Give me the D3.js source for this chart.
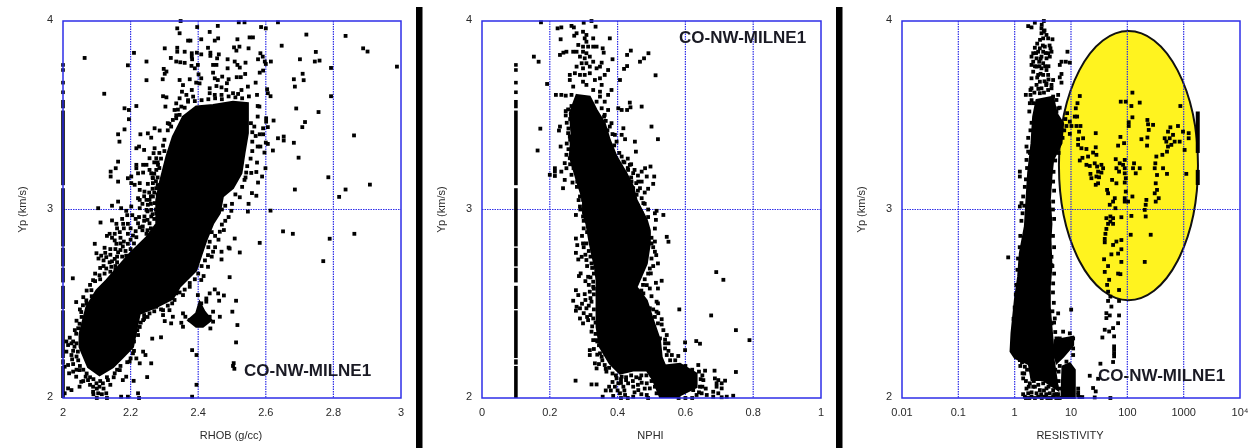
<!DOCTYPE html>
<html><head><meta charset="utf-8">
<script src="https://cdnjs.cloudflare.com/ajax/libs/d3/7.8.5/d3.min.js"></script>
<style>html,body{margin:0;padding:0;background:#fff}svg{display:block;filter:blur(0.3px)}</style>
</head><body><svg id="c" width="1254" height="448"></svg>
<script>
// ---------- shared ----------
const vpTicks=[2,3,4];
const rhobTicks=[2,2.2,2.4,2.6,2.8,3];
const nphiTicks=[0,0.2,0.4,0.6,0.8,1];
const resTicks=[0.01,0.1,1,10,100,1000,10000];
const resTickLabels=["0.01","0.1","1","10","100","1000","10⁴"];
const wellName="CO-NW-MILNE1";
// isolated Vp readings of the null-valued column (RHOB=2, NPHI=0.1)
const nullVpDots=[3.767,3.740,3.673,3.622];
// continuous runs of the same column [vpLow, vpHigh]
const nullVpRuns=[[3.537,3.581],[3.129,3.525],[2.804,3.113],[2.698,2.797],[2.613,2.691],[2.472,2.595],[2.212,2.465],[2.177,2.205],[2,2.170]];

// ---------- RHOB ----------
const rhobDense=[[[2.394,3.546],[2.444,3.555],[2.503,3.572],[2.547,3.564],[2.547,3.405],[2.537,3.299],[2.528,3.193],[2.503,3.113],[2.473,3.069],[2.464,2.981],[2.444,2.924],[2.424,2.836],[2.404,2.730],[2.394,2.677],[2.345,2.588],[2.325,2.527],[2.276,2.482],[2.227,2.447],[2.217,2.359],[2.207,2.270],[2.178,2.217],[2.148,2.164],[2.108,2.120],[2.074,2.164],[2.049,2.270],[2.049,2.341],[2.069,2.482],[2.099,2.571],[2.128,2.624],[2.197,2.765],[2.247,2.853],[2.276,2.924],[2.276,3.051],[2.286,3.140],[2.306,3.281],[2.325,3.387],[2.355,3.493]],
[[2.370,2.413],[2.394,2.449],[2.404,2.510],[2.419,2.458],[2.439,2.413],[2.414,2.378],[2.394,2.378]]];
const rhobPoints=[[2.064,3.804],[2.122,3.614],[2.192,3.765],[2.210,3.831],[2.247,3.785],[2.247,3.686],[2.348,4.0],[2.338,3.961],[2.345,3.935],[2.397,3.968],[2.434,3.942],[2.458,3.974],[2.520,3.993],[2.537,3.993],[2.586,3.968],[2.600,3.961],[2.636,3.993],[2.720,3.928],[2.836,3.921],[2.888,3.855],[2.901,3.838],[2.988,3.758],[2.647,3.869],[2.748,3.836],[2.745,3.785],[2.759,3.790],[2.701,3.797],[2.793,3.751],[2.709,3.720],[2.712,3.686],[2.683,3.691],[2.686,3.652],[2.793,3.601],[2.690,3.536],[2.756,3.517],[2.716,3.464],[2.708,3.437],[2.861,3.393],[2.683,3.354],[2.697,3.275],[2.785,3.171],[2.908,3.132],[2.836,3.106],[2.817,3.067],[2.686,3.106],[2.614,2.994],[2.651,2.884],[2.680,2.871],[2.789,2.845],[2.862,2.871],[2.770,2.726],[2.582,2.823],[2.523,2.772],[2.493,2.641],[2.512,2.516],[2.501,2.458],[2.516,2.387],[2.512,2.295],[2.505,2.185],[2.503,2.170],[2.507,2.155],[2.382,2.254],[2.395,2.228],[2.249,2.111],[2.395,2.07],[2.382,2.007],[2.264,2.315],[2.290,2.322],[2.029,2.635],[2.039,2.509],
[2.370,3.896],[2.377,3.896],[2.409,3.903],[2.459,3.908],[2.449,3.896],[2.516,3.903],[2.552,3.913],[2.562,3.913],[2.301,3.855],[2.338,3.858],[2.338,3.837],[2.360,3.837],[2.381,3.829],[2.381,3.811],[2.396,3.832],[2.409,3.823],[2.436,3.832],[2.436,3.815],[2.461,3.823],[2.456,3.802],[2.429,3.858],[2.506,3.860],[2.522,3.864],[2.513,3.843],[2.549,3.855],[2.584,3.829],[2.591,3.811],[2.577,3.797],[2.597,3.785],[2.615,3.785],[2.600,3.772],[2.319,3.804],[2.335,3.785],[2.347,3.781],[2.360,3.778],[2.382,3.797],[2.380,3.762],[2.390,3.749],[2.399,3.767],[2.444,3.767],[2.454,3.767],[2.487,3.797],[2.508,3.785],[2.516,3.767],[2.523,3.753],[2.540,3.779],[2.487,3.749],[2.298,3.746],[2.306,3.732],[2.301,3.720],[2.295,3.691],[2.345,3.687],[2.375,3.691],[2.401,3.717],[2.409,3.696],[2.394,3.673],[2.444,3.726],[2.449,3.696],[2.471,3.705],[2.458,3.687],[2.490,3.691],[2.485,3.670],[2.514,3.702],[2.526,3.702],[2.539,3.719],[2.570,3.673],[2.592,3.737],[2.582,3.726],[2.355,3.660],[2.352,3.625],[2.381,3.634],[2.404,3.669],[2.434,3.643],[2.454,3.655],[2.469,3.648],[2.483,3.634],[2.434,3.617],[2.449,3.608],[2.469,3.608],[2.503,3.617],[2.518,3.613],[2.528,3.634],[2.547,3.652],[2.604,3.638],[2.606,3.617],[2.614,3.601],[2.574,3.608],[2.296,3.601],[2.306,3.595],[2.303,3.546],[2.345,3.590],[2.365,3.608],[2.385,3.599],[2.370,3.572],[2.335,3.563],[2.330,3.528],[2.350,3.546],[2.182,3.537],[2.195,3.528],[2.217,3.549],[2.195,3.479],[2.335,3.484],[2.325,3.475],[2.310,3.458],[2.315,3.454],[2.345,3.502],
[2.576,3.549],[2.581,3.546],[2.576,3.493],[2.601,3.484],[2.601,3.466],[2.623,3.472],[2.556,3.458],[2.566,3.440],[2.606,3.437],[2.592,3.431],[2.592,3.399],[2.582,3.399],[2.636,3.378],[2.653,3.387],[2.653,3.366],[2.600,3.355],[2.606,3.348],[2.576,3.334],[2.584,3.334],[2.621,3.313],[2.596,3.302],[2.574,3.249],[2.599,3.219],[2.542,3.196],[2.557,3.194],[2.572,3.199],[2.589,3.175],[2.577,3.143],[2.537,3.157],[2.559,3.087],[2.572,3.073],[2.523,3.065],[2.549,3.030],[2.547,2.989],[2.498,2.993],
[2.163,3.399],[2.167,3.360],[2.182,3.425],[2.229,3.399],[2.251,3.404],[2.261,3.381],[2.271,3.431],[2.286,3.419],[2.296,3.339],[2.217,3.325],[2.225,3.334],[2.240,3.316],[2.271,3.325],[2.268,3.299],[2.276,3.272],[2.256,3.272],[2.163,3.254],[2.156,3.219],[2.141,3.201],[2.141,3.175],[2.163,3.148],[2.217,3.237],[2.217,3.219],[2.237,3.237],[2.247,3.237],[2.256,3.210],[2.281,3.237],[2.276,3.210],[2.222,3.192],[2.237,3.196],[2.261,3.192],[2.266,3.166],[2.192,3.166],[2.202,3.175],[2.202,3.140],[2.212,3.131],[2.227,3.140],[2.251,3.136],[2.266,3.140],[2.222,3.060],[2.227,3.051],[2.247,3.051],[2.256,3.051],[2.266,3.069],[2.271,3.034],[2.251,3.025],[2.247,2.998],[2.163,3.042],[2.145,3.020],[2.104,3.007],[2.172,3.007],[2.187,2.993],[2.202,3.016],[2.227,3.007],[2.261,2.998],[2.241,2.963],[2.261,2.963],[2.276,2.980],[2.227,3.104],[2.241,3.095],[2.276,3.113],[2.111,2.931],[2.145,2.942],[2.158,2.924],[2.178,2.924],[2.192,2.924],[2.222,2.927],[2.236,2.910],[2.256,2.927],
[2.138,2.871],[2.153,2.871],[2.168,2.880],[2.192,2.871],[2.207,2.862],[2.227,2.906],[2.247,2.871],[2.153,2.836],[2.158,2.818],[2.192,2.818],[2.177,2.804],[2.217,2.853],[2.227,2.800],[2.247,2.791],[2.217,2.765],[2.094,2.818],[2.123,2.797],[2.099,2.768],[2.113,2.755],[2.128,2.747],[2.138,2.720],[2.153,2.738],[2.163,2.773],[2.187,2.755],[2.177,2.712],[2.089,2.625],[2.108,2.651],[2.128,2.687],[2.143,2.696],[2.123,2.660],[2.084,2.572],[2.069,2.518],[2.059,2.492],[2.054,2.456],[2.049,2.394],[2.039,2.341],[2.020,2.320],
[2.015,2.281],[2.034,2.272],[2.010,2.246],[2.025,2.228],[2.044,2.246],[2.027,2.205],[2.015,2.175],[2.005,2.166],[2.018,2.131],[2.049,2.148],[2.039,2.113],[2.054,2.086],[2.049,2.060],[2.015,2.051],[2.025,2.042],[2.005,2.025],[2.067,2.113],[2.074,2.095],[2.099,2.078],[2.089,2.060],[2.108,2.060],[2.118,2.078],[2.133,2.095],[2.089,2.033],[2.104,2.025],[2.128,2.025],[2.153,2.131],[2.168,2.148],[2.187,2.113],[2.177,2.095],[2.172,2.007],[2.192,2.007],[2.222,2.025],[2.225,2.0],[2.209,2.091],[2.197,2.193],[2.217,2.210],[2.237,2.246],[2.244,2.228],[2.261,2.184],[2.227,2.184],[2.207,2.237],[2.222,2.334],[2.227,2.377],[2.237,2.413],
[2.335,2.555],[2.355,2.546],[2.375,2.590],[2.409,2.626],[2.416,2.647],[2.429,2.696],[2.444,2.776],[2.469,2.776],[2.469,2.735],[2.429,2.758],[2.419,2.855],[2.434,2.829],[2.464,2.882],[2.476,2.891],[2.490,2.798],[2.508,2.846],[2.493,2.793],[2.323,2.502],[2.276,2.484],[2.256,2.449],[2.296,2.466],[2.315,2.466],[2.296,2.440],[2.325,2.431],[2.301,2.408],[2.320,2.396],[2.355,2.449],[2.362,2.431],[2.350,2.399],[2.355,2.378],[2.375,2.413],[2.399,2.546],[2.409,2.502],[2.424,2.528],[2.434,2.555],[2.449,2.576],[2.459,2.555],[2.476,2.544],[2.462,2.516],[2.424,2.511],[2.444,2.458],[2.434,2.431],[2.464,2.431],[2.444,2.405],[2.436,2.369],[2.404,2.387]];
const rhobEdge=[[2.285,3.30],[2.29,3.27],[2.28,3.25],[2.27,3.25],[2.285,3.22],[2.27,3.19],[2.28,3.17],[2.265,3.17],[2.275,3.15],[2.28,3.13],[2.265,3.11],[2.255,3.09],[2.27,3.09],[2.28,3.08],[2.26,3.07],[2.24,3.07],[2.235,3.03],[2.26,3.03],[2.275,3.0],[2.25,2.99],[2.265,2.975],[2.27,2.95],[2.25,2.945],[2.24,2.94],[2.215,2.95],[2.225,2.96],[2.205,2.97],[2.19,2.97],[2.175,2.95],[2.16,2.90],[2.18,2.90],[2.2,2.90],[2.215,2.885],[2.235,2.89],[2.25,2.89],[2.26,2.90],
[2.13,2.86],[2.145,2.85],[2.17,2.85],[2.18,2.83],[2.2,2.84],[2.21,2.82],[2.17,2.82],[2.14,2.79],[2.155,2.79],[2.17,2.785],[2.185,2.78],[2.2,2.79],[2.125,2.77],[2.14,2.76],[2.16,2.75],[2.175,2.75],[2.19,2.73],[2.105,2.74],[2.12,2.73],[2.145,2.725],[2.16,2.72],[2.17,2.70],[2.155,2.70],[2.14,2.67],[2.155,2.68],[2.11,2.69],[2.12,2.70],[2.095,2.66],[2.11,2.63],[2.095,2.62],[2.08,2.60],[2.07,2.57],[2.085,2.54],[2.06,2.535],[2.07,2.50],[2.05,2.47],[2.055,2.43],[2.04,2.41],[2.045,2.37],[2.035,2.36],[2.03,2.30],[2.04,2.29],
[2.01,2.30],[2.025,2.29],[2.03,2.25],[2.04,2.22],[2.045,2.20],[2.03,2.18],[2.05,2.17],[2.06,2.15],[2.04,2.15],[2.03,2.14],[2.07,2.13],[2.08,2.11],[2.06,2.09],[2.09,2.10],[2.11,2.09],[2.13,2.11],[2.15,2.11],[2.16,2.15],[2.17,2.17],[2.19,2.19],[2.2,2.21],[2.21,2.25],[2.21,2.30],[2.22,2.36],[2.23,2.40],[2.24,2.44],[2.08,2.07],[2.1,2.05],[2.12,2.05],[2.14,2.07],[2.09,2.02],[2.115,2.02],[2.13,2.0],[2.1,2.0],
[2.44,2.88],[2.45,2.86],[2.43,2.80],[2.44,2.75],[2.42,2.73],[2.41,2.70],[2.40,2.66],[2.39,2.63],[2.375,2.61],[2.36,2.575],[2.345,2.56],[2.33,2.52],[2.31,2.49],[2.29,2.47],[2.27,2.46],[2.25,2.43],[2.24,2.42],[2.45,2.80],[2.46,2.84],[2.47,2.92],[2.48,2.94],[2.49,2.96],[2.47,3.00],[2.48,3.02],[2.50,3.03],[2.51,3.08],[2.53,3.12],[2.54,3.17],[2.545,3.23],[2.555,3.27],[2.56,3.31],[2.56,3.36],[2.56,3.41],[2.57,3.39],
[2.37,3.58],[2.39,3.575],[2.41,3.58],[2.43,3.585],[2.45,3.59],[2.47,3.585],[2.49,3.60],[2.51,3.595],[2.53,3.59],[2.55,3.60],[2.36,3.54],[2.34,3.53],[2.335,3.50],[2.32,3.44],[2.31,3.42],[2.30,3.37],[2.30,3.31]];

// ---------- NPHI ----------
const nphiDense=[[[0.279,3.608],[0.318,3.599],[0.338,3.528],[0.362,3.458],[0.377,3.369],[0.397,3.281],[0.426,3.193],[0.446,3.122],[0.456,3.051],[0.486,2.945],[0.495,2.889],[0.495,2.818],[0.486,2.712],[0.456,2.588],[0.486,2.518],[0.505,2.412],[0.525,2.306],[0.530,2.217],[0.540,2.173],[0.584,2.182],[0.633,2.129],[0.633,2.058],[0.574,2.005],[0.525,2.005],[0.505,2.094],[0.486,2.146],[0.446,2.146],[0.407,2.129],[0.377,2.182],[0.348,2.270],[0.338,2.376],[0.338,2.570],[0.338,2.624],[0.333,2.694],[0.318,2.818],[0.308,2.924],[0.298,2.980],[0.298,3.051],[0.279,3.157],[0.259,3.281],[0.264,3.405],[0.259,3.511]]];
const nphiPoints=[[0.174,3.993],[0.223,3.961],[0.234,3.966],[0.264,3.974],[0.271,3.966],[0.300,3.991],[0.323,4.0],[0.335,3.970],[0.279,3.935],[0.272,3.922],[0.298,3.943],[0.308,3.926],[0.303,3.908],[0.232,3.903],[0.377,3.908],[0.308,3.890],[0.328,3.908],[0.328,3.864],[0.284,3.873],[0.298,3.864],[0.313,3.864],[0.338,3.864],[0.356,3.855],[0.230,3.820],[0.240,3.832],[0.249,3.837],[0.269,3.837],[0.279,3.837],[0.298,3.837],[0.308,3.829],[0.359,3.832],[0.153,3.811],[0.167,3.784],[0.192,3.666],[0.439,3.843],[0.428,3.820],[0.491,3.829],[0.478,3.802],[0.466,3.784],[0.385,3.797],[0.428,3.761],[0.419,3.746],[0.512,3.712],[0.289,3.811],[0.303,3.802],[0.318,3.811],[0.328,3.784],[0.294,3.776],[0.308,3.776],[0.353,3.779],[0.279,3.758],[0.298,3.749],[0.318,3.758],[0.338,3.749],[0.348,3.758],[0.372,3.740],[0.362,3.714],[0.259,3.714],[0.274,3.723],[0.259,3.687],[0.289,3.714],[0.303,3.714],[0.318,3.723],[0.333,3.687],[0.348,3.696],[0.407,3.687],[0.269,3.652],[0.298,3.678],[0.308,3.661],[0.353,3.661],[0.328,3.634],[0.348,3.625],[0.382,3.634],[0.372,3.608],[0.218,3.608],[0.234,3.608],[0.247,3.604],[0.264,3.608],[0.348,3.599],[0.338,3.572],[0.362,3.572],[0.353,3.537],[0.372,3.528],[0.362,3.502],[0.402,3.537],[0.412,3.528],[0.428,3.528],[0.438,3.542],[0.436,3.567],[0.471,3.546],[0.360,3.493],
[0.264,3.549],[0.254,3.531],[0.247,3.522],[0.247,3.499],[0.172,3.429],[0.164,3.313],[0.230,3.440],[0.227,3.419],[0.254,3.405],[0.259,3.387],[0.264,3.360],[0.232,3.334],[0.249,3.290],[0.259,3.272],[0.244,3.246],[0.249,3.219],[0.215,3.219],[0.215,3.201],[0.200,3.184],[0.215,3.178],[0.234,3.201],[0.244,3.157],[0.264,3.184],[0.267,3.143],[0.281,3.148],[0.239,3.113],[0.294,3.113],[0.289,3.069],[0.298,3.051],[0.289,3.016],[0.277,2.971],[0.298,2.963],
[0.382,3.458],[0.377,3.440],[0.417,3.431],[0.392,3.396],[0.412,3.396],[0.422,3.373],[0.397,3.360],[0.451,3.360],[0.454,3.307],[0.500,3.440],[0.519,3.373],[0.412,3.281],[0.417,3.254],[0.436,3.237],[0.431,3.210],[0.446,3.193],[0.471,3.201],[0.481,3.219],[0.497,3.228],[0.486,3.175],[0.508,3.175],[0.505,3.136],[0.441,3.148],[0.461,3.148],[0.471,3.148],[0.446,3.113],[0.466,3.113],[0.456,3.078],[0.471,3.060],[0.476,3.034],[0.456,3.007],[0.426,3.007],[0.436,2.980],[0.451,2.963],[0.471,2.980],[0.471,2.945],[0.515,2.993],[0.510,2.980],[0.535,2.971],[0.513,2.945],
[0.545,2.855],[0.550,2.829],[0.510,2.899],[0.491,2.873],[0.500,2.820],[0.495,2.687],[0.498,2.661],[0.519,2.714],[0.514,2.758],[0.510,2.776],[0.530,2.622],[0.513,2.611],[0.519,2.581],[0.486,2.599],[0.495,2.581],[0.476,2.555],[0.515,2.511],[0.519,2.502],[0.495,2.476],[0.515,2.458],[0.530,2.418],[0.519,2.396],[0.545,2.334],[0.525,2.316],[0.550,2.290],[0.540,2.263],[0.545,2.228],[0.560,2.228],[0.579,2.223],[0.599,2.295],[0.599,2.254],[0.632,2.302],[0.643,2.288],[0.582,2.470],[0.676,2.438],[0.691,2.668],[0.712,2.627],[0.749,2.360],[0.789,2.307],[0.749,2.138],[0.686,2.145],[0.658,2.145],
[0.277,2.846],[0.281,2.811],[0.298,2.820],[0.308,2.820],[0.277,2.770],[0.294,2.749],[0.284,2.735],[0.308,2.732],[0.323,2.714],[0.291,2.661],[0.286,2.647],[0.313,2.643],[0.328,2.617],[0.328,2.590],[0.318,2.564],[0.303,2.551],[0.277,2.572],[0.284,2.546],[0.269,2.516],[0.279,2.484],[0.277,2.463],[0.289,2.476],[0.308,2.476],[0.323,2.511],[0.289,2.422],[0.298,2.396],[0.313,2.413],[0.328,2.422],[0.323,2.352],[0.328,2.307],[0.338,2.307],[0.318,2.254],[0.318,2.228],[0.348,2.237],[0.353,2.219],[0.333,2.184],[0.338,2.157],[0.362,2.175],[0.367,2.140],[0.397,2.104],[0.412,2.113],[0.276,2.092],[0.323,2.072],[0.338,2.072],
[0.356,2.007],[0.387,2.011],[0.392,2.060],[0.402,2.078],[0.417,2.060],[0.431,2.078],[0.446,2.060],[0.466,2.104],[0.471,2.081],[0.486,2.078],[0.495,2.051],[0.407,2.025],[0.422,2.016],[0.446,2.007],[0.461,2.042],[0.486,2.016],[0.515,2.025],[0.525,2.060],[0.540,2.051],[0.555,2.060],[0.638,2.175],[0.653,2.095],[0.643,2.060],[0.623,2.042],[0.633,2.016],[0.648,2.025],[0.663,2.016],[0.682,2.007],[0.707,2.004],[0.722,2.007],[0.741,2.012],[0.687,2.104],[0.697,2.095],[0.717,2.092],[0.692,2.078],[0.707,2.078],[0.707,2.051],[0.692,2.060],[0.682,2.033],[0.697,2.025]];
const nphiEdge=[[0.30,2.90],[0.295,2.86],[0.31,2.88],[0.30,2.80],[0.315,2.78],[0.305,2.76],[0.32,2.75],[0.325,2.69],[0.31,2.70],[0.33,2.66],[0.32,2.64],[0.305,2.62],[0.315,2.60],[0.33,2.58],[0.32,2.53],[0.33,2.55],[0.305,2.52],[0.295,2.50],[0.315,2.49],[0.33,2.47],[0.30,2.45],[0.32,2.44],[0.31,2.43],[0.335,2.40],[0.325,2.38],[0.335,2.34],[0.34,2.30],[0.345,2.28],[0.33,2.26],[0.34,2.23],[0.355,2.20],[0.345,2.18],[0.365,2.155],[0.375,2.16],[0.385,2.13],[0.395,2.12],[0.41,2.10],[0.425,2.11],[0.44,2.12],[0.455,2.11],[0.47,2.12],[0.485,2.12],[0.50,2.12],
[0.38,2.04],[0.40,2.04],[0.42,2.04],[0.41,2.0],[0.43,2.0],[0.45,2.03],[0.46,2.07],[0.48,2.05],[0.47,2.02],[0.49,2.0],[0.50,2.09],[0.51,2.06],[0.52,2.10],[0.53,2.02],[0.54,2.09],[0.55,2.03],[0.56,2.08],[0.445,2.09],[0.425,2.095],[0.41,2.08],[0.385,2.085],[0.375,2.06],[0.365,2.04],
[0.50,2.85],[0.505,2.80],[0.51,2.83],[0.50,2.74],[0.505,2.70],[0.49,2.66],[0.48,2.63],[0.475,2.60],[0.47,2.57],[0.50,2.54],[0.505,2.47],[0.52,2.45],[0.51,2.43],[0.53,2.39],[0.535,2.36],[0.54,2.31],[0.54,2.29],[0.55,2.25],[0.555,2.20],[0.57,2.20],[0.60,2.17],[0.62,2.15],[0.64,2.14],[0.65,2.12],[0.645,2.10],[0.65,2.06],[0.66,2.05],[0.64,2.03],[0.60,2.0],[0.62,2.0],[0.58,2.0],
[0.46,3.10],[0.455,3.14],[0.44,3.17],[0.43,3.22],[0.42,3.25],[0.405,3.30],[0.39,3.34],[0.385,3.40],[0.37,3.42],[0.365,3.47],[0.49,3.0],[0.48,3.03],[0.46,3.02],[0.49,2.96],[0.46,3.18],[0.45,3.21],[0.44,3.24],[0.43,3.27],[0.48,3.09],[0.49,3.11],
[0.28,3.20],[0.27,3.22],[0.26,3.24],[0.27,3.28],[0.255,3.32],[0.25,3.35],[0.26,3.37],[0.255,3.43],[0.25,3.46],[0.26,3.48],[0.28,3.12],[0.295,3.09],[0.285,3.05],[0.29,3.00],[0.30,2.94]];

// ---------- RESISTIVITY (values stored as log10 ohm.m) ----------
const resDense=[[[0.387,3.581],[0.683,3.599],[0.742,3.511],[0.860,3.458],[0.831,3.352],[0.683,3.263],[0.653,3.175],[0.624,3.051],[0.653,2.924],[0.636,2.839],[0.653,2.698],[0.624,2.592],[0.624,2.482],[0.653,2.376],[0.683,2.274],[0.683,2.168],[0.447,2.150],[0.209,2.185],[0.004,2.212],[-0.073,2.247],[-0.056,2.344],[0.004,2.521],[0.062,2.645],[0.092,2.768],[0.181,2.910],[0.210,3.051],[0.239,3.193],[0.299,3.352],[0.328,3.493]],
[[0.849,2.168],[0.979,2.185],[1.067,2.150],[1.067,2.0],[0.830,2.0]],
[[0.712,2.307],[1.038,2.325],[1.038,2.281],[0.860,2.219],[0.742,2.184],[0.712,2.228]],
[[0.240,2.201],[0.683,2.219],[0.772,2.042],[0.506,2.095],[0.299,2.095]]];
const resPoints=[[0.518,4.0],[0.358,3.991],[0.240,3.973],[0.299,3.966],[0.476,3.961],[0.518,3.943],[0.476,3.935],[0.565,3.926],[0.506,3.908],[0.594,3.908],[0.671,3.903],[0.358,3.858],[0.447,3.855],[0.535,3.864],[0.636,3.855],[0.329,3.829],[0.417,3.837],[0.506,3.837],[0.594,3.829],[0.654,3.837],[0.299,3.811],[0.388,3.802],[0.476,3.811],[0.565,3.802],[0.624,3.811],[0.329,3.784],[0.435,3.784],[0.506,3.776],[0.299,3.767],[0.388,3.758],[0.476,3.749],[0.565,3.740],[0.329,3.731],[0.417,3.714],[0.506,3.714],[0.594,3.714],[0.683,3.687],[0.299,3.696],[0.447,3.678],[0.565,3.669],[0.654,3.661],[0.299,3.643],[0.388,3.661],[0.476,3.643],[0.594,3.634],[0.654,3.643],[0.198,3.608],[0.281,3.634],[0.281,3.608],[0.269,3.564],[0.329,3.564],[0.447,3.617],[0.683,3.599],[0.772,3.608],[0.742,3.581],[0.654,3.537],[0.772,3.537],[0.742,3.519],[0.937,3.837],[0.831,3.784],[0.908,3.784],[0.979,3.779],[0.801,3.767],[0.831,3.719],[0.801,3.701],[0.831,3.673],[0.210,3.334],[0.240,3.307],[0.210,3.263],[0.092,3.201],[0.092,3.175],[0.151,3.069],[0.121,3.034],[0.092,3.016],[0.683,3.042],[0.624,3.139],[0.683,3.148],[0.654,2.749],[0.654,2.705],[0.683,2.608],[0.695,2.505],[0.772,2.449],[0.712,2.422],[0.654,2.396],[0.860,2.352],[0.979,2.343],[1.038,2.316],[0.979,2.299],[0.801,2.316],[0.742,2.316],[0.772,2.254],[0.683,2.219],[0.801,2.219],[0.860,2.237],[1.038,2.263],[1.038,2.228],[0.919,2.193],
[0.140,2.131],[0.151,2.104],[0.269,2.078],[0.240,2.025],[0.181,2.007],[0.329,2.060],[0.388,2.025],[0.447,2.042],[0.506,2.078],[0.565,2.051],[0.624,2.025],[0.683,2.042],[0.742,2.060],[0.712,2.095],[0.624,2.095],[0.506,2.131],[0.447,2.148],[0.565,2.166],[0.299,2.148],[0.388,2.166],[0.181,2.166],[0.092,2.201],[0.033,2.219],[0.683,2.007],[0.299,2.007],[0.417,2.007],[0.536,2.007],
[1.156,3.602],[1.115,3.564],[1.085,3.537],[1.067,3.493],[1.109,3.493],[0.931,3.511],[0.979,3.466],[0.919,3.443],[1.008,3.443],[1.097,3.443],[1.168,3.443],[0.979,3.401],[1.143,3.413],[1.439,3.405],[1.126,3.373],[1.215,3.378],[1.126,3.343],[1.185,3.325],[1.274,3.321],[1.439,3.330],[1.392,3.302],[1.451,3.290],[1.303,3.281],[1.156,3.260],[1.203,3.274],[1.274,3.237],[1.333,3.231],[1.421,3.245],[1.463,3.228],[1.540,3.237],[1.570,3.219],[1.481,3.201],[1.540,3.196],[1.345,3.189],[1.451,3.175],[1.362,3.166],[1.498,3.171],[1.481,3.139],[1.439,3.131],[1.729,3.157],[1.806,3.139],[1.954,3.143],[1.972,3.166],[1.954,3.192],[1.954,3.219],[1.954,3.263],[1.924,3.237],[1.865,3.245],[1.794,3.267],[1.806,3.219],[1.853,3.201],[2.119,3.245],[2.101,3.219],[2.220,3.219],[2.149,3.192],[1.836,3.339],[1.942,3.352],[1.877,3.385],[1.883,3.572],[1.972,3.572],[2.090,3.620],[2.072,3.549],[2.220,3.567],[2.090,3.489],[2.025,3.463],[2.025,3.443],[2.356,3.475],[2.368,3.452],[2.380,3.422],[2.457,3.449],[2.250,3.373],[2.356,3.382],[2.350,3.339],
[2.722,3.413],[2.764,3.436],[2.899,3.443],[2.988,3.413],[3.089,3.405],[3.089,3.378],[2.663,3.378],[2.692,3.360],[2.752,3.378],[2.811,3.396],[2.840,3.360],[2.929,3.360],[2.722,3.334],[2.781,3.343],[2.704,3.307],[2.622,3.290],[2.515,3.281],[2.497,3.245],[2.486,3.219],[2.634,3.219],[2.527,3.183],[2.704,3.189],[3.047,3.189],[3.017,3.316],[2.941,3.549],[2.504,3.139],[2.527,3.104],[2.486,3.086],[2.557,3.060],[2.504,3.042],[2.338,3.051],[2.326,3.025],[2.309,2.998],[2.326,2.963],[1.972,3.095],[2.090,3.069],[1.954,3.060],[1.954,3.042],[2.013,3.042],[1.777,3.060],[1.747,3.042],[1.688,3.025],[1.641,3.104],[1.658,3.086],[1.788,3.007],[1.699,2.963],[1.628,2.954],[1.747,2.954],[1.894,2.959],[2.072,2.966],[1.699,2.936],[1.658,2.924],[1.747,2.924],
[1.628,2.897],[1.611,2.871],[1.599,2.844],[1.599,2.826],[2.060,2.866],[2.415,2.866],[1.894,2.838],[1.806,2.830],[1.747,2.812],[1.894,2.789],[1.836,2.766],[1.717,2.762],[1.587,2.736],[1.658,2.700],[2.309,2.722],[1.894,2.722],[1.599,2.669],[1.836,2.660],[1.877,2.657],[1.677,2.627],[1.641,2.600],[1.853,2.573],[1.658,2.564],[1.699,2.538],[1.658,2.515],[1.717,2.485],[1.853,2.515],[1.628,2.450],[1.688,2.438],[1.628,2.424],[1.853,2.438],[1.836,2.397],[1.747,2.371],[1.599,2.362],[1.677,2.353],[1.557,2.321],[1.765,2.327],[1.765,2.274],[1.765,2.256],[1.765,2.238],[1.765,2.221],[1.747,2.191],[1.522,2.182],[1.333,2.118],[1.481,2.102],[1.392,2.053],[1.439,2.035],[1.421,2.003],[1.699,2.0],[1.003,2.469],[-0.115,2.746],[1.127,2.05],[1.127,2.03],[1.127,2.015],[1.15,2.005],[1.2,2.005]];
const resEdge=[[0.30,3.58],[0.26,3.52],[0.30,3.46],[0.28,3.42],[0.24,3.38],[0.27,3.30],[0.22,3.22],[0.20,3.16],[0.18,3.12],[0.17,3.02],[0.14,2.98],[0.12,2.94],[0.10,2.86],[0.09,2.80],[0.06,2.74],[0.05,2.68],[0.03,2.60],[0.02,2.55],[0.0,2.48],[-0.02,2.42],
[0.69,3.20],[0.72,3.26],[0.78,3.30],[0.85,3.38],[0.88,3.42],[0.90,3.48],[0.80,3.54],[0.70,3.10],[0.68,3.00],[0.70,2.95],[0.68,2.86],[0.70,2.80],[0.67,2.70],[0.70,2.66],[0.68,2.56],[0.67,2.46],[0.70,2.40],[0.72,2.35],
[0.35,3.62],[0.42,3.64],[0.52,3.62],[0.56,3.66],[0.40,3.70],[0.46,3.72],[0.53,3.68],[0.60,3.69],[0.36,3.76],[0.44,3.76],[0.54,3.76],[0.60,3.76],[0.38,3.83],[0.46,3.80],[0.55,3.83],[0.40,3.88],[0.45,3.90],[0.50,3.87],[0.53,3.95],[0.48,3.98],[0.62,3.87],
[0.10,2.17],[0.13,2.19],[0.17,2.13],[0.22,2.15],[0.20,2.09],[0.25,2.06],[0.21,2.05],[0.30,2.03],[0.34,2.09],[0.36,2.06],[0.42,2.07],[0.47,2.02],[0.52,2.04],[0.56,2.02],[0.60,2.06],[0.65,2.07],[0.70,2.02],[0.74,2.02],[0.78,2.09],[0.80,2.05],[0.78,2.14],[0.72,2.15],[0.80,2.17],[0.77,2.02],[0.80,2.0],[0.74,2.0],[0.64,2.0],[0.58,2.0],[0.48,2.0],[0.36,2.0],[0.26,2.0],[0.20,2.0],[0.15,2.02]];
// column of clipped readings at the right of the resistivity panel [vpLow, vpHigh]
const resClipLog=3.25;
const resClipRuns=[[3.30,3.52],[3.13,3.21]];
// highlighted ellipse [centre log10 res, centre Vp, half-width in log10, half-height in Vp]
const ellipseSpec={cx:2.02,cy:3.233,rx:1.234,ry:0.714};

// ---------- drawing ----------
const svg=d3.select("#c"),plotTop=21,plotBottom=398;
const blue="#2e2ee8",textCol="#2a2a2a",font="'Liberation Sans',Arial,sans-serif";
const yS=d3.scaleLinear().domain([2,4]).range([plotBottom,plotTop]);

function panel(o){
  const g=svg.append("g");
  const x=o.x;
  g.append("rect").attr("x",x.range()[0]).attr("y",plotTop).attr("width",x.range()[1]-x.range()[0]).attr("height",plotBottom-plotTop).attr("fill","#fff");
  if(o.under) o.under(g,x);
  o.ticks.slice(1,-1).forEach(t=>g.append("line").attr("x1",x(t)).attr("x2",x(t)).attr("y1",plotTop).attr("y2",plotBottom).attr("stroke",blue).attr("stroke-width",1.2).attr("stroke-dasharray","1.5 1"));
  g.append("line").attr("x1",x.range()[0]).attr("x2",x.range()[1]).attr("y1",yS(3)).attr("y2",yS(3)).attr("stroke",blue).attr("stroke-width",1.2).attr("stroke-dasharray","1.5 1");
  const px=o.px||(d=>x(d));
  const line=d3.line().x(d=>px(d[0])).y(d=>yS(d[1]));
  g.selectAll("path.dense").data(o.dense).join("path").attr("class","dense").attr("d",d=>line(d)+"Z").attr("fill","#000").attr("stroke","#000").attr("stroke-width",2);
  const s=3.8;
  g.selectAll("rect.pt").data(o.points).join("rect").attr("class","pt").attr("x",d=>px(d[0])-s/2).attr("y",d=>yS(d[1])-s/2).attr("width",s).attr("height",s).attr("fill","#000");
  if(o.over) o.over(g,x);
  g.append("rect").attr("x",x.range()[0]).attr("y",plotTop).attr("width",x.range()[1]-x.range()[0]).attr("height",plotBottom-plotTop).attr("fill","none").attr("stroke",blue).attr("stroke-width",1.5);
  o.ticks.forEach((t,i)=>{
    g.append("text").attr("x",x(t)).attr("y",plotBottom+18).attr("text-anchor","middle").attr("font-size",11).attr("font-family",font).attr("fill",textCol).text(o.labels?o.labels[i]:t);
  });
  vpTicks.forEach(t=>g.append("text").attr("x",x.range()[0]-13).attr("y",yS(t)+2).attr("text-anchor","middle").attr("font-size",11).attr("font-family",font).attr("fill",textCol).text(t));
  g.append("text").attr("transform",`translate(${x.range()[0]-37},${yS(3)}) rotate(-90)`).attr("text-anchor","middle").attr("font-size",11).attr("font-family",font).attr("fill",textCol).text("Yp (km/s)");
  g.append("text").attr("x",(x.range()[0]+x.range()[1])/2-1).attr("y",plotBottom+41).attr("text-anchor","middle").attr("font-size",11).attr("font-family",font).attr("fill",textCol).text(o.title);
  g.append("text").attr("x",o.wellX).attr("y",o.wellY).attr("font-size",17).attr("font-weight","bold").attr("font-family",font).attr("fill","#1a1a24").text(wellName);
}
function nullColumn(g,xp){
  g.selectAll(null).data(nullVpRuns).join("rect").attr("x",xp-1.8).attr("width",3.6).attr("y",d=>yS(d[1])).attr("height",d=>yS(d[0])-yS(d[1])).attr("fill","#000");
  g.selectAll(null).data(nullVpDots).join("rect").attr("x",xp-1.8).attr("width",3.6).attr("y",d=>yS(d)-1.8).attr("height",3.6).attr("fill","#000");
}
panel({x:d3.scaleLinear().domain([2,3]).range([63,401]),ticks:rhobTicks,title:"RHOB (g/cc)",dense:rhobDense,points:rhobPoints.concat(rhobEdge),wellX:244,wellY:376,
  over:(g,x)=>nullColumn(g,x(2))});
panel({x:d3.scaleLinear().domain([0,1]).range([482,821]),ticks:nphiTicks,title:"NPHI",dense:nphiDense,points:nphiPoints.concat(nphiEdge),wellX:679,wellY:43,
  over:(g,x)=>nullColumn(g,x(0.1))});
const resX=d3.scaleLog().domain([0.01,10000]).range([902,1240]);
panel({x:resX,px:d=>resX(Math.pow(10,d)),ticks:resTicks,labels:resTickLabels,title:"RESISTIVITY",dense:resDense,points:resPoints.concat(resEdge),wellX:1098,wellY:381,
  under:(g,x)=>{
    const e=ellipseSpec,cx=x(Math.pow(10,e.cx)),cy=yS(e.cy);
    g.append("ellipse").attr("cx",cx).attr("cy",cy)
      .attr("rx",x(Math.pow(10,e.cx+e.rx))-cx).attr("ry",yS(e.cy-e.ry)-cy)
      .attr("fill","#fff31f").attr("stroke","#111").attr("stroke-width",2);
  },
  over:(g,x)=>{
    const xp=x(Math.pow(10,resClipLog));
    g.selectAll(null).data(resClipRuns).join("rect").attr("x",xp-2).attr("width",4).attr("y",d=>yS(d[1])).attr("height",d=>yS(d[0])-yS(d[1])).attr("fill","#000");
  }});
// thick page separators between the panels
const seps=[416,836];
svg.selectAll("rect.sep").data(seps).join("rect").attr("class","sep").attr("x",d=>d).attr("y",7).attr("width",6.5).attr("height",441).attr("fill","#000");
</script></body></html>
